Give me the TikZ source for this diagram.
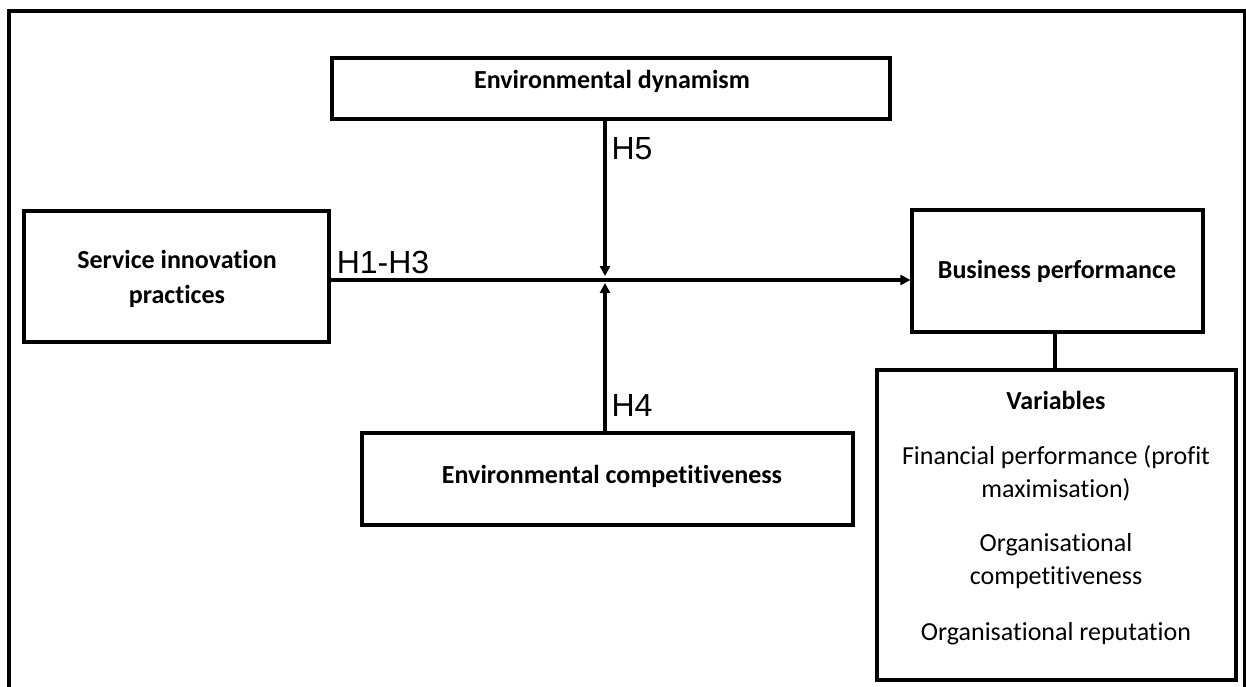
\documentclass[tikz,border=0pt]{standalone}
\usepackage{fontspec}
\setmainfont{Carlito}[RawFeature=-liga]
\newfontfamily\labelfont{Liberation Sans}
\usetikzlibrary{arrows.meta}
\begin{document}
\begin{tikzpicture}[x=1pt,y=-1pt,
  box/.style={draw,line width=3.2pt,inner sep=0pt},
  boxtext/.style={font=\fontsize{26}{35}\selectfont\bfseries,align=center},
  vartext/.style={font=\fontsize{26}{33}\selectfont,align=center},
  hlabel/.style={font=\labelfont\fontsize{32}{34}\selectfont},
  link/.style={line width=3.2pt,-{Triangle[length=10pt,width=10pt]}}]
\useasboundingbox (0,0) rectangle (1246,687);
% outer frame
\draw[line width=3.4pt] (9,690) -- (9,11) -- (1245,11) -- (1245,690);
% boxes
\node[box,minimum width=558pt,minimum height=61pt] (dyn) at (611,88.5) {};
\node[box,minimum width=305pt,minimum height=131pt] (sip) at (176.5,276.5) {};
\node[box,minimum width=491pt,minimum height=92pt] (comp) at (607.5,479) {};
\node[box,minimum width=291pt,minimum height=122pt] (bp) at (1057.5,271) {};
\node[box,minimum width=359pt,minimum height=310pt] (var) at (1056.5,525) {};
% box texts
\node[boxtext] at (612,81) {Environmental dynamism};
\node[boxtext] at (177,279) {Service innovation\\practices};
\node[boxtext] at (612,476) {Environmental competitiveness};
\node[boxtext] at (1057,271) {Business performance};
\node[boxtext] at (1056,400) {Variables};
\node[vartext] at (1056,473) {Financial performance (profit\\maximisation)};
\node[vartext] at (1056,561) {Organisational\\competitiveness};
\node[vartext] at (1056,634) {Organisational reputation};
% connectors
\coordinate (jt) at (605,276);
\coordinate (jb) at (605,283);
\draw[link] (sip.east |- 0,280) -- (bp.west |- 0,280);
\draw[link] (dyn.south -| jt) -- (jt);
\draw[link] (comp.north -| jb) -- (jb);
\draw[line width=4.5pt] (bp.south -| 1055,0) -- (var.north -| 1055,0);
% hypothesis labels
\node[hlabel] at (632,149) {H5};
\node[hlabel] at (383,262) {H1-H3};
\node[hlabel] at (632,405) {H4};
\end{tikzpicture}
\end{document}
